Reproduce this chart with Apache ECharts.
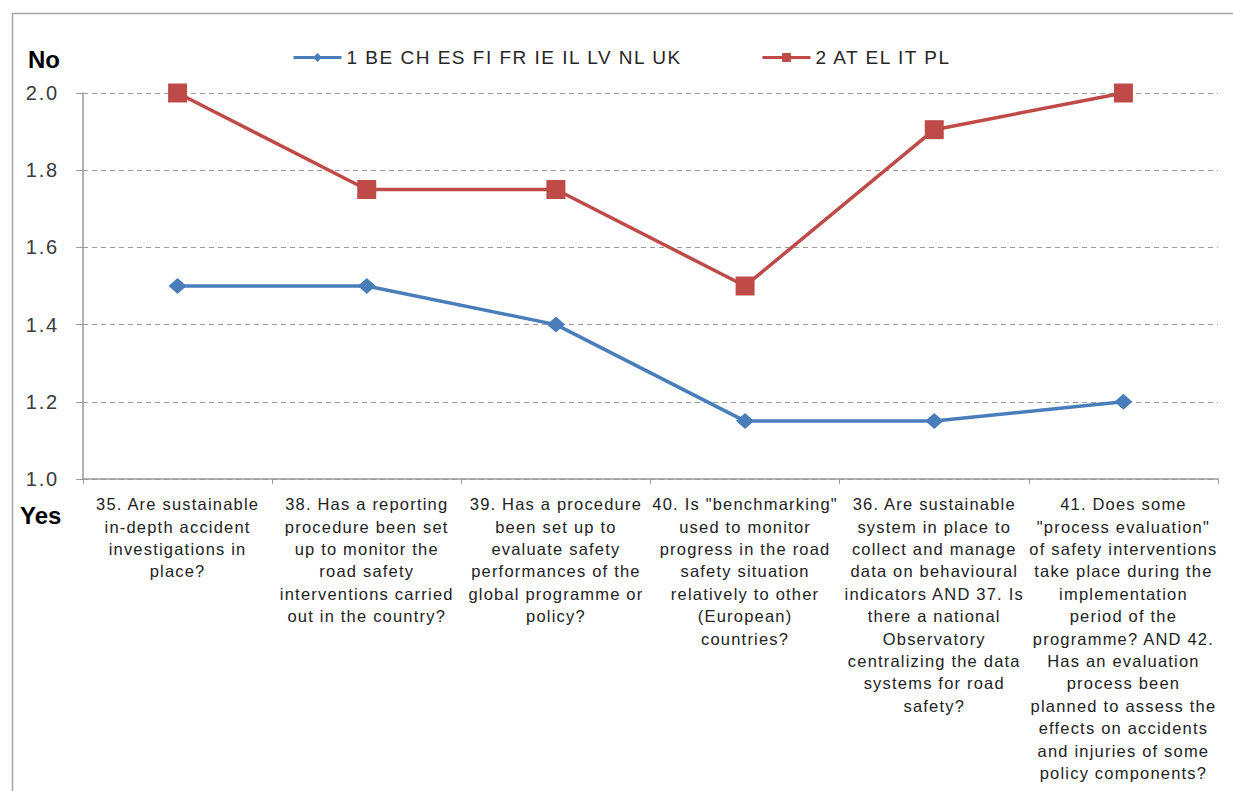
<!DOCTYPE html>
<html>
<head>
<meta charset="utf-8">
<script src="https://cdn.jsdelivr.net/npm/echarts@6/dist/echarts.min.js"></script>
<style>
html,body{margin:0;padding:0;background:#fff;}
#chart{width:1233px;height:791px;}
#chart svg text{letter-spacing:1.2px;}
#chart svg text[style*="19px"]{letter-spacing:1.5px;}
#chart svg text[style*="20px"]{letter-spacing:1.8px;}
#chart svg text[style*="bold"]{letter-spacing:0px;}
</style>
</head>
<body>
<div id="chart"></div>
<script>
var categories = [
  "35. Are sustainable\nin-depth accident\ninvestigations in\nplace?",
  "38. Has a reporting\nprocedure been set\nup to monitor the\nroad safety\ninterventions carried\nout in the country?",
  "39. Has a procedure\nbeen set up to\nevaluate safety\nperformances of the\nglobal programme or\npolicy?",
  "40. Is \"benchmarking\"\nused to monitor\nprogress in the road\nsafety situation\nrelatively to other\n(European)\ncountries?",
  "36. Are sustainable\nsystem in place to\ncollect and manage\ndata on behavioural\nindicators AND 37. Is\nthere a national\nObservatory\ncentralizing the data\nsystems for road\nsafety?",
  "41. Does some\n\"process evaluation\"\nof safety interventions\ntake place during the\nimplementation\nperiod of the\nprogramme? AND 42.\nHas an evaluation\nprocess been\nplanned to assess the\neffects on accidents\nand injuries of some\npolicy components?"
];
var series1Name = "1 BE CH ES FI FR IE IL LV NL UK";
var series1 = [1.5, 1.5, 1.4, 1.15, 1.15, 1.2];
var series2Name = "2 AT EL IT PL";
var series2 = [2.0, 1.75, 1.75, 1.5, 1.905, 2.0];
var yTicks = {min: 1.0, max: 2.0, interval: 0.2};

var FONT = 'Liberation Sans, Arial, sans-serif';
var chart = echarts.init(document.getElementById('chart'), null, {renderer: 'svg'});
chart.setOption({
  backgroundColor: '#fff',
  animation: false,
  textStyle: {fontFamily: FONT},
  graphic: [
    {type: 'rect', shape: {x: 12.5, y: 13.5, width: 1240, height: 800}, style: {fill: 'none', stroke: '#a6a6a6', lineWidth: 1.5}},
    {type: 'text', left: 28, top: 47, style: {text: 'No', font: 'bold 24px ' + FONT, fill: '#000'}},
    {type: 'text', left: 20, top: 503, style: {text: 'Yes', font: 'bold 24px ' + FONT, fill: '#000'}}
  ],
  legend: [
    {
      top: 43, left: 287, itemWidth: 48, itemHeight: 11, itemGap: 0,
      lineStyle: {width: 3},
      textStyle: {fontSize: 19, color: '#262626', fontFamily: FONT},
      data: [series1Name]
    },
    {
      top: 43, left: 756, itemWidth: 48, itemHeight: 11, itemGap: 0,
      lineStyle: {width: 3},
      textStyle: {fontSize: 19, color: '#262626', fontFamily: FONT},
      data: [series2Name]
    }
  ],
  grid: {left: 83, right: 15, top: 93, bottom: 312, containLabel: false},
  xAxis: {
    type: 'category',
    data: categories,
    boundaryGap: true,
    axisLine: {lineStyle: {color: '#9a9a9a', width: 1.5}},
    axisTick: {show: true, length: 5, inside: false, lineStyle: {color: '#9a9a9a'}},
    axisLabel: {interval: 0, fontSize: 16.5, lineHeight: 22.4, color: '#222', margin: 14, align: 'center'}
  },
  yAxis: {
    type: 'value',
    min: yTicks.min,
    max: yTicks.max,
    interval: yTicks.interval,
    axisLine: {show: true, lineStyle: {color: '#9a9a9a', width: 1.5}},
    axisTick: {show: true, length: 7, lineStyle: {color: '#9a9a9a'}},
    axisLabel: {fontSize: 20, color: '#3a3a3a', margin: 24, formatter: function (v) { return v.toFixed(1); }},
    splitLine: {show: true, lineStyle: {color: '#9a9a9a', type: [5, 4], width: 1}}
  },
  series: [
    {
      name: series1Name, type: 'line', data: series1,
      symbol: 'diamond', symbolSize: [18, 16],
      lineStyle: {color: '#4a7ebb', width: 3.5},
      itemStyle: {color: '#4a7ebb'}
    },
    {
      name: series2Name, type: 'line', data: series2,
      symbol: 'rect', symbolSize: 19,
      lineStyle: {color: '#be4b48', width: 3.5},
      itemStyle: {color: '#be4b48'}
    }
  ]
});
</script>
</body>
</html>
